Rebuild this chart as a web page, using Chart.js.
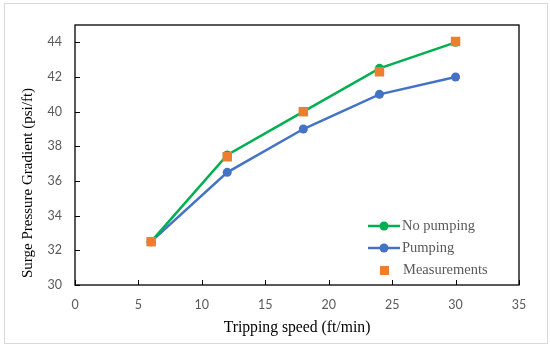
<!DOCTYPE html>
<html>
<head>
<meta charset="utf-8">
<script src="https://cdn.jsdelivr.net/npm/chart.js@4/dist/chart.umd.min.js"></script>
<style>
  html, body { margin: 0; padding: 0; background: #fff; }
  #wrap { width: 550px; height: 350px; position: relative; }
</style>
</head>
<body>
<div id="wrap"><canvas id="c" width="550" height="350"></canvas></div>
<script>
const speeds = [6, 12, 18, 24, 30];
const noPumping = [32.5, 37.5, 40.0, 42.5, 44.0];
const pumping = [32.5, 36.5, 39.0, 41.0, 42.0];
const measurements = [32.5, 37.4, 40.0, 42.3, 44.05];
const xTickLabels = [0, 5, 10, 15, 20, 25, 30, 35];
const yTickLabels = [30, 32, 34, 36, 38, 40, 42, 44];
const seriesNames = ['No pumping', 'Pumping', 'Measurements'];
const xTitle = 'Tripping speed (ft/min)';
const yTitle = 'Surge Pressure Gradient (psi/ft)';

const GREEN = '#00B050', BLUE = '#4472C4', ORANGE = '#ED7D31';

function pts(vals) { return speeds.map((s, i) => ({x: s, y: vals[i]})); }

const decor = {
  id: 'decor',
  beforeDraw(chart) {
    const ctx = chart.ctx;
    ctx.save();
    ctx.fillStyle = '#fff';
    ctx.fillRect(0, 0, chart.width, chart.height);
    ctx.strokeStyle = '#d9d9d9';
    ctx.lineWidth = 1;
    ctx.strokeRect(4.5, 3.5, 543, 340);
    ctx.restore();
  },
  afterDatasetsDraw(chart) {
    const ctx = chart.ctx;
    const a = chart.chartArea;
    const xs = chart.scales.x, ys = chart.scales.y;
    ctx.save();
    ctx.strokeStyle = '#000';
    ctx.lineWidth = 1.3;
    ctx.strokeRect(a.left, a.top, a.right - a.left, a.bottom - a.top);
    ctx.lineWidth = 1;
    ctx.beginPath();
    xTickLabels.forEach(v => {
      const px = Math.round(xs.getPixelForValue(v)) + 0.5;
      ctx.moveTo(px, a.bottom); ctx.lineTo(px, a.bottom - 5);
    });
    yTickLabels.forEach(v => {
      const py = Math.round(ys.getPixelForValue(v)) + 0.5;
      ctx.moveTo(a.left, py); ctx.lineTo(a.left + 5, py);
    });
    ctx.stroke();

    // y title
    ctx.fillStyle = '#000';
    ctx.font = '15px "Liberation Serif", "Times New Roman", serif';
    ctx.textAlign = 'center';
    ctx.textBaseline = 'middle';
    ctx.translate(28, 183);
    ctx.rotate(-Math.PI / 2);
    ctx.fillText(yTitle, 0, 0);
    ctx.restore();

    // legend
    ctx.save();
    const items = [
      {name: seriesNames[0], color: GREEN, type: 'line', y: 226},
      {name: seriesNames[1], color: BLUE, type: 'line', y: 248},
      {name: seriesNames[2], color: ORANGE, type: 'rect', y: 270},
    ];
    items.forEach(it => {
      if (it.type === 'line') {
        ctx.strokeStyle = it.color;
        ctx.lineWidth = 2.5;
        ctx.beginPath();
        ctx.moveTo(368, it.y); ctx.lineTo(400, it.y);
        ctx.stroke();
        ctx.fillStyle = it.color;
        ctx.beginPath();
        ctx.arc(384, it.y, 4.5, 0, Math.PI * 2);
        ctx.fill();
      } else {
        ctx.fillStyle = it.color;
        ctx.fillRect(380, it.y - 4, 9, 9);
      }
      ctx.fillStyle = '#595959';
      ctx.font = '14.5px "Liberation Serif", "Times New Roman", serif';
      ctx.textAlign = 'left';
      ctx.textBaseline = 'middle';
      ctx.fillText(it.name, it.type === 'line' ? 402 : 403, it.y);
    });
    ctx.restore();
  }
};

new Chart(document.getElementById('c'), {
  type: 'scatter',
  data: {
    datasets: [
      {label: seriesNames[2], data: pts(measurements), showLine: false,
       pointStyle: 'rect', pointRadius: 6.7, pointHoverRadius: 6.7,
       backgroundColor: ORANGE, borderColor: ORANGE, borderWidth: 0, order: 0},
      {label: seriesNames[0], data: pts(noPumping), showLine: true,
       borderColor: GREEN, backgroundColor: GREEN, borderWidth: 2.5,
       pointRadius: 4.5, pointHoverRadius: 4.5, pointBorderWidth: 0, order: 1},
      {label: seriesNames[1], data: pts(pumping), showLine: true,
       borderColor: BLUE, backgroundColor: BLUE, borderWidth: 2.5,
       pointRadius: 4.5, pointHoverRadius: 4.5, pointBorderWidth: 0, order: 2}
    ]
  },
  options: {
    responsive: false,
    animation: false,
    layout: {padding: {left: 0, right: 31, top: 25, bottom: 0}},
    plugins: {legend: {display: false}, tooltip: {enabled: false}},
    scales: {
      x: {
        type: 'linear', min: 0, max: 35,
        afterBuildTicks(s) { s.ticks = xTickLabels.map(v => ({value: v})); },
        afterFit(s) { s.height = 65; },
        grid: {display: false, drawTicks: false},
        border: {display: false},
        ticks: {color: '#595959', padding: 12, maxRotation: 0,
                font: {family: 'Lato, "Open Sans", sans-serif', size: 12.5}},
        title: {display: true, text: xTitle, color: '#000', padding: {top: 2, bottom: 13},
                font: {family: '"Liberation Serif", "Times New Roman", serif', size: 15.7}}
      },
      y: {
        type: 'linear', min: 30, max: 45,
        afterBuildTicks(s) { s.ticks = yTickLabels.map(v => ({value: v})); },
        afterFit(s) { s.width = 75; },
        grid: {display: false, drawTicks: false},
        border: {display: false},
        ticks: {color: '#595959', padding: 13,
                font: {family: 'Lato, "Open Sans", sans-serif', size: 12.5}}
      }
    }
  },
  plugins: [decor]
});
</script>
</body>
</html>
